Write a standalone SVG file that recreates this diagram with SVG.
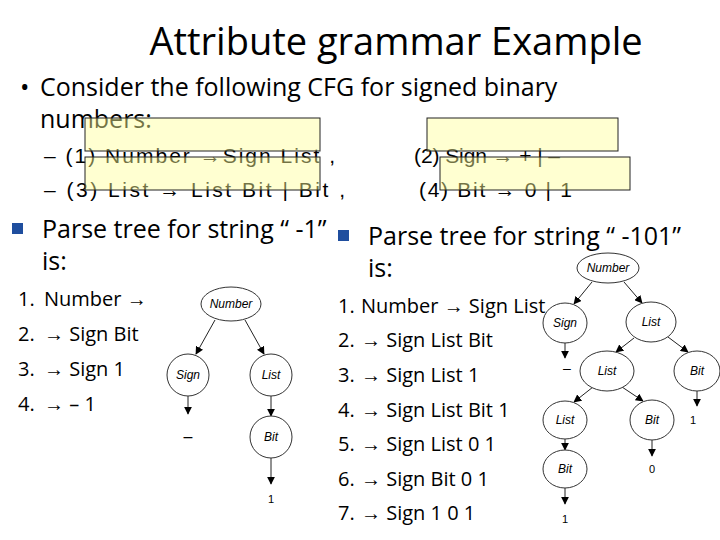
<svg xmlns="http://www.w3.org/2000/svg" width="720" height="540" viewBox="0 0 720 540">
<defs>
<marker id="ah" viewBox="0 0 10 10" refX="9" refY="5" markerWidth="8" markerHeight="8" orient="auto"><path d="M0,0L10,5L0,10z" fill="#000"/></marker>
<style>
text{font-family:"Open Sans","Liberation Sans",sans-serif;fill:#000}
.t{font-size:20px}
.g{font-size:21px;font-family:"Liberation Sans",Arial,sans-serif}
.b{font-size:25px}
.n{font-family:"Liberation Sans",Arial,sans-serif;font-style:italic;font-size:12px;text-anchor:middle}
.lf{font-family:"Liberation Sans",Arial,sans-serif;font-size:11px;text-anchor:middle}
.nd{fill:#fff;stroke:#333;stroke-width:1}
.c{stroke:#222;stroke-width:1;fill:none;marker-end:url(#ah)}
.y{fill:#ffff99;fill-opacity:0.45;stroke:#222;stroke-width:1}
.sq{fill:#1f4e9e}
</style>
</defs>
<rect width="720" height="540" fill="#fff"/>
<text x="396" y="55" text-anchor="middle" style="font-size:38px">Attribute grammar Example</text>
<text x="20" y="96" class="b">•</text>
<text x="40" y="96" class="b">Consider the following CFG for signed binary</text>
<text x="40" y="128" class="b">numbers:</text>
<text x="44" y="163" class="g" textLength="291" lengthAdjust="spacing">– (1) Number →Sign List  ,</text>
<text x="414" y="163" class="g" textLength="146" lengthAdjust="spacing">(2) Sign  → + | –</text>
<text x="44" y="197" class="g" textLength="301" lengthAdjust="spacing">–  (3) List  → List Bit | Bit    ,</text>
<text x="419" y="197" class="g" textLength="153" lengthAdjust="spacing">(4)  Bit  → 0 | 1</text>
<rect class="y" x="85" y="118" width="235" height="33"/>
<rect class="y" x="85" y="157" width="235" height="33"/>
<rect class="y" x="427" y="118" width="191" height="33"/>
<rect class="y" x="440" y="157" width="190" height="33"/>
<rect class="sq" x="12" y="223" width="11" height="11"/>
<text x="42" y="238" class="b">Parse tree for string “ -1”</text>
<text x="42" y="270" class="b">is:</text>
<rect class="sq" x="338" y="230" width="11" height="11"/>
<text x="368" y="245" class="b">Parse tree for string “ -101”</text>
<text x="368" y="277" class="b">is:</text>
<g class="t">
<text x="18" y="306">1.</text><text x="44" y="306">Number →</text>
<text x="18" y="341">2.</text><text x="44" y="341">→ Sign Bit</text>
<text x="18" y="376">3.</text><text x="44" y="376">→ Sign 1</text>
<text x="18" y="411">4.</text><text x="44" y="411">→ – 1</text>
<text x="338" y="313">1.</text><text x="361" y="313">Number → Sign List</text>
<text x="338" y="347">2.</text><text x="361" y="347">→ Sign List Bit</text>
<text x="338" y="382">3.</text><text x="361" y="382">→ Sign List 1</text>
<text x="338" y="417">4.</text><text x="361" y="417">→ Sign List Bit 1</text>
<text x="338" y="451">5.</text><text x="361" y="451">→ Sign List 0 1</text>
<text x="338" y="486">6.</text><text x="361" y="486">→ Sign Bit 0 1</text>
<text x="338" y="520">7.</text><text x="361" y="520">→ Sign 1 0 1</text>
</g>
<g id="connectors">
<line class="c" x1="215" y1="320" x2="196" y2="354"/>
<line class="c" x1="245" y1="320" x2="264" y2="354"/>
<line class="c" x1="188" y1="396" x2="188" y2="414"/>
<line class="c" x1="271" y1="396" x2="271" y2="416"/>
<line class="c" x1="271" y1="458" x2="271" y2="484"/>
<line class="c" x1="592" y1="282" x2="574" y2="304"/>
<line class="c" x1="624" y1="282" x2="642" y2="303"/>
<line class="c" x1="565" y1="343" x2="565" y2="358"/>
<line class="c" x1="634" y1="338" x2="616" y2="352"/>
<line class="c" x1="668" y1="337" x2="688" y2="352"/>
<line class="c" x1="593" y1="387" x2="574" y2="402"/>
<line class="c" x1="622" y1="387" x2="643" y2="401"/>
<line class="c" x1="697" y1="391" x2="697" y2="406"/>
<line class="c" x1="565" y1="439" x2="565" y2="450"/>
<line class="c" x1="652" y1="440" x2="652" y2="456"/>
<line class="c" x1="565" y1="488" x2="565" y2="504"/>
</g>
<g id="left-number"><ellipse class="nd" cx="231" cy="304" rx="30" ry="17"/><text class="n" x="231" y="308">Number</text></g>
<g id="left-sign"><circle class="nd" cx="188" cy="375" r="21"/><text class="n" x="188" y="379">Sign</text></g>
<g id="left-list"><circle class="nd" cx="271" cy="375" r="21"/><text class="n" x="271" y="379">List</text></g>
<g id="left-bit"><circle class="nd" cx="271" cy="437" r="21"/><text class="n" x="271" y="441">Bit</text></g>
<text class="lf" x="188" y="442" style="font-size:16px">–</text>
<text class="lf" x="271" y="503">1</text>
<g id="r-number"><ellipse class="nd" cx="608" cy="268" rx="31" ry="15"/><text class="n" x="608" y="272">Number</text></g>
<g id="r-sign"><ellipse class="nd" cx="565" cy="323" rx="22" ry="20"/><text class="n" x="565" y="327">Sign</text></g>
<g id="r-list1"><ellipse class="nd" cx="651" cy="322" rx="25" ry="20"/><text class="n" x="651" y="326">List</text></g>
<g id="r-list2"><ellipse class="nd" cx="607" cy="371" rx="27" ry="20"/><text class="n" x="607" y="375">List</text></g>
<g id="r-bit1"><ellipse class="nd" cx="697" cy="371" rx="23" ry="20"/><text class="n" x="697" y="375">Bit</text></g>
<g id="r-list3"><ellipse class="nd" cx="565" cy="420" rx="22" ry="19"/><text class="n" x="565" y="424">List</text></g>
<g id="r-bit2"><ellipse class="nd" cx="652" cy="420" rx="22" ry="20"/><text class="n" x="652" y="424">Bit</text></g>
<g id="r-bit3"><ellipse class="nd" cx="565" cy="469" rx="22" ry="19"/><text class="n" x="565" y="473">Bit</text></g>
<text class="lf" x="567" y="373" style="font-size:14px">–</text>
<text class="lf" x="693" y="424">1</text>
<text class="lf" x="652" y="473">0</text>
<text class="lf" x="565" y="523">1</text>
</svg>
